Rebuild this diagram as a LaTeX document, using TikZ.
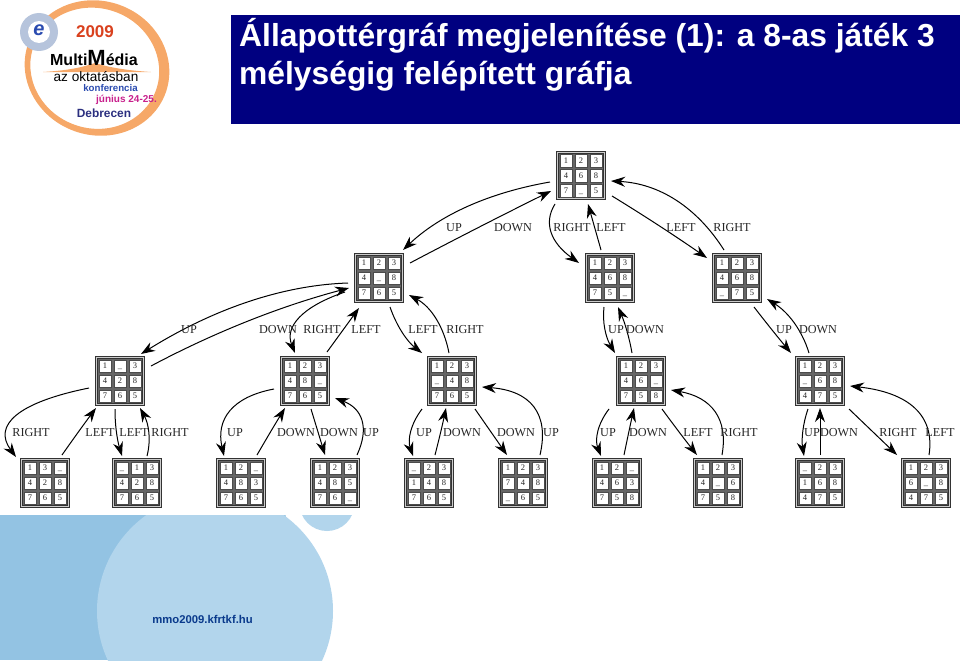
\documentclass[tikz,border=0pt]{standalone}
\usepackage{fontspec}
\setmainfont{Liberation Serif}
\newfontfamily\headfont{Liberation Sans}
\usepackage{xcolor}
\usetikzlibrary{arrows.meta, calc}
\definecolor{navy}{HTML}{000080}
\definecolor{skydark}{HTML}{93C3E3}
\definecolor{skylight}{HTML}{B2D5EC}
\definecolor{ringorange}{HTML}{F6A868}
\definecolor{linkblue}{HTML}{0A3A8C}
\definecolor{seal}{HTML}{B6C4DC}
\definecolor{yearred}{HTML}{D9411E}
\definecolor{confblue}{HTML}{2A4BB0}
\definecolor{datepink}{HTML}{C8208C}
\definecolor{cityblue}{HTML}{2B2F7F}
\tikzset{
  boardbox/.style={draw=black!80, line width=0.7pt, fill=black!20, minimum size=48.5pt, inner sep=0pt},
  gridbox/.style={draw=black!80, line width=0.7pt, fill=black!60, minimum size=44.5pt, inner sep=0pt},
  cellbox/.style={draw=black!70, line width=0.5pt, fill=white, minimum size=12.5pt, inner sep=0pt,
    font=\fontsize{8.5}{9}\selectfont, text=black!85, text height=5.6pt, text depth=0pt},
  movelabel/.style={font=\fontsize{12.2}{13}\selectfont, text=black!85, yshift=-0.6pt},
  edgeline/.style={line width=1pt, -{Stealth[length=14pt,width=10pt]}},
  logotext/.style={font=\headfont\bfseries\fontsize{#1}{#1}\selectfont, inner sep=0pt},
}
\begin{document}
\begin{tikzpicture}[x=1pt, y=-1pt]
  \useasboundingbox (0,0) rectangle (960,661);
  % footer shapes
  \begin{scope}
    \clip (0,515) rectangle (960,660);
    \fill[skydark] (0,515) rectangle (300,660);
    \fill[white] (327,503.5) circle[radius=43];
    \fill[skylight] (215,611) circle[radius=118];
    \fill[skylight] (327,503.5) circle[radius=27.5];
  \end{scope}
  \node[font=\headfont\bfseries\fontsize{11.3}{12}\selectfont, text=linkblue] (site) at (202.5,619) {mmo2009.kfrtkf.hu};
  % title
  \fill[navy] (231,15) rectangle (960,124);
  \node[anchor=base west, inner sep=0pt, text=white, font=\headfont\bfseries\fontsize{31.8}{32}\selectfont] (titlea) at (239,47) {Állapottérgráf megjelenítése (1): a 8-as játék 3};
  \node[anchor=base west, inner sep=0pt, text=white, font=\headfont\bfseries\fontsize{31.8}{32}\selectfont] (titleb) at (239,84) {mélységig felépített gráfja};
  % logo
  \fill[ringorange, even odd rule, rotate around={-20:(97,68)}] (97,68) ellipse[x radius=73, y radius=67] (95,69) ellipse[x radius=65, y radius=60];
  \fill[seal] (39,32) circle[radius=19];
  \fill[white] (39,32) circle[radius=11];
  \node[logotext=20, text=confblue] (sealmark) at (39,30) {\itshape e};
  \node[logotext=17, text=yearred] (logoyear) at (95,32) {2009};
  \fill[ringorange] (43,72) .. controls (75,70) and (85,66) .. (95,63) .. controls (105,66) and (120,70) .. (151,72) -- cycle;
  \node[logotext=16] (logomulti) at (94,58) {Multi\fontsize{22}{22}\selectfont M\fontsize{16}{16}\selectfont édia};
  \node[logotext=13.6] (logoaz) at (96,77) {\fontseries{m}\selectfont az oktatásban};
  \node[logotext=9.7, text=confblue] (logoconf) at (110.5,88) {konferencia};
  \node[logotext=10, text=datepink] (logodate) at (126.5,100) {június 24-25.};
  \node[logotext=11.9, text=cityblue] (logocity) at (104,113) {Debrecen};
  % boards
  \foreach \name/\px/\py/\vals in {
      root/581/175.5/{1,2,3,4,6,8,7,\_,5},
      a/379/278/{1,2,3,4,\_,8,7,6,5}, b/610/278/{1,2,3,4,6,8,7,5,\_}, c/737/278/{1,2,3,4,6,8,\_,7,5},
      aa/120/381/{1,\_,3,4,2,8,7,6,5}, ab/305/381/{1,2,3,4,8,\_,7,6,5}, ac/452/381/{1,2,3,\_,4,8,7,6,5},
      ba/641/381/{1,2,3,4,6,\_,7,5,8}, ca/820/381/{1,2,3,\_,6,8,4,7,5},
      aaa/45/483/{1,3,\_,4,2,8,7,6,5}, aab/137/483/{\_,1,3,4,2,8,7,6,5},
      aba/241/483/{1,2,\_,4,8,3,7,6,5}, abb/335/483/{1,2,3,4,8,5,7,6,\_},
      aca/429/483/{\_,2,3,1,4,8,7,6,5}, acb/523/483/{1,2,3,7,4,8,\_,6,5},
      baa/617/483/{1,2,\_,4,6,3,7,5,8}, bab/718/483/{1,2,3,4,\_,6,7,5,8},
      caa/820/483/{\_,2,3,1,6,8,4,7,5}, cab/926/483/{1,2,3,6,\_,8,4,7,5}%
  } {
    \node[boardbox] (\name) at (\px,\py) {};
    \node[gridbox] (\name g) at (\px,\py) {};
    \foreach \v [count=\ii from 0] in \vals {
      \pgfmathsetmacro{\xx}{\px+15*(mod(\ii,3)-1)}
      \pgfmathsetmacro{\yy}{\py+15*(floor(\ii/3)-1)}
      \node[cellbox] (\name c\ii) at (\xx,\yy) {\v};
    }
  }
  % moves
  \foreach \from/\fx/\fy/\into/\tx/\ty/\cx/\cy in {
      root/-31/6.5/a/24/-28/464/204, a/31/-15/root/-30/15.5/481/226,
      root/-26/28.5/b/-31/-15/547/233, b/-9/-28/root/7/28.5/594.5/227,
      root/31/20.5/c/-30/-20/660/226, c/-13/-28/root/30/5.5/677.5/195,
      a/-31/5/aa/21/-27/248/297, aa/31/-15/a/-30/10/248/319,
      a/-34/14/ab/-10/-28/293/317, ab/22/-29/a/-20/30/343/330,
      a/11/29/ac/-30/-28/402/334, ac/-3/-28/a/30/17/437/316,
      b/-6/29/ba/-26/-28/604/330, ba/-9/-28/b/8/29/627/330,
      c/17/29/ca/-29/-28/772/330, ca/-11/-28/c/30/21/795/321,
      aa/-31/7/aaa/-29/-26/5/414, aaa/17/-28/aa/-24/27/79/431,
      aa/-5/28/aab/-15/-27/116/432, aab/10/-27/aa/20/27/150/432,
      ab/-31/8/aba/-17/-27/224/408, aba/16/-28/ab/-20/27/271/431,
      ab/6/28/abb/-10/-28/318/432, abb/22/-28/ab/30/17/366/418,
      ac/-30/28/aca/-16/-27/409/432, aca/6/-28/ac/-6/27/441/431,
      ac/23/28/acb/-16/-28/491/432, acb/17/-28/ac/30/6/540/402,
      ba/-32/28/baa/-16/-27/596/432, baa/7/-28/ba/-7/27/629/431,
      ba/21/28/bab/-21/-28/679/432, bab/4/-28/ba/30/9/720/408,
      ca/-12/28/caa/-16/-27/802/432, caa/0/-28/ca/0/27/820/431.5,
      ca/29/28/cab/-29/-28/873/432, cab/3/-28/ca/30/5/922/404
  } {
    \coordinate (s) at ($(\from)+(\fx,\fy)$);
    \coordinate (e) at ($(\into)+(\tx,\ty)$);
    \coordinate (q) at ($(s)!.5!(e)!1.5!(\cx,\cy)$);
    \draw[edgeline] (s) .. controls ($(s)!.667!(q)$) and ($(e)!.667!(q)$) .. (e);
  }
  % labels
  \foreach \lx/\ly/\txt [count=\li] in {
      454/227/UP, 513/227/DOWN, 572/227/RIGHT, 611/227/LEFT, 681/227/LEFT, 732/227/RIGHT,
      189/329/UP, 278/329/DOWN, 322/329/RIGHT, 366/329/LEFT, 423/329/LEFT, 465/329/RIGHT,
      616/329/UP, 645/329/DOWN, 784/329/UP, 818/329/DOWN,
      31/432/RIGHT, 100/432/LEFT, 134/432/LEFT, 170/432/RIGHT, 235/432/UP, 296/432/DOWN,
      339/432/DOWN, 371/432/UP, 424/432/UP, 462/432/DOWN, 516/432/DOWN, 551/432/UP,
      608/432/UP, 648/432/DOWN, 698/432/LEFT, 739/432/RIGHT, 812/432/UP, 839/432/DOWN,
      898/432/RIGHT, 940/432/LEFT
  } {
    \node[movelabel, inner sep=0pt] (move\li) at (\lx,\ly) {\txt};
  }
\end{tikzpicture}
\end{document}
